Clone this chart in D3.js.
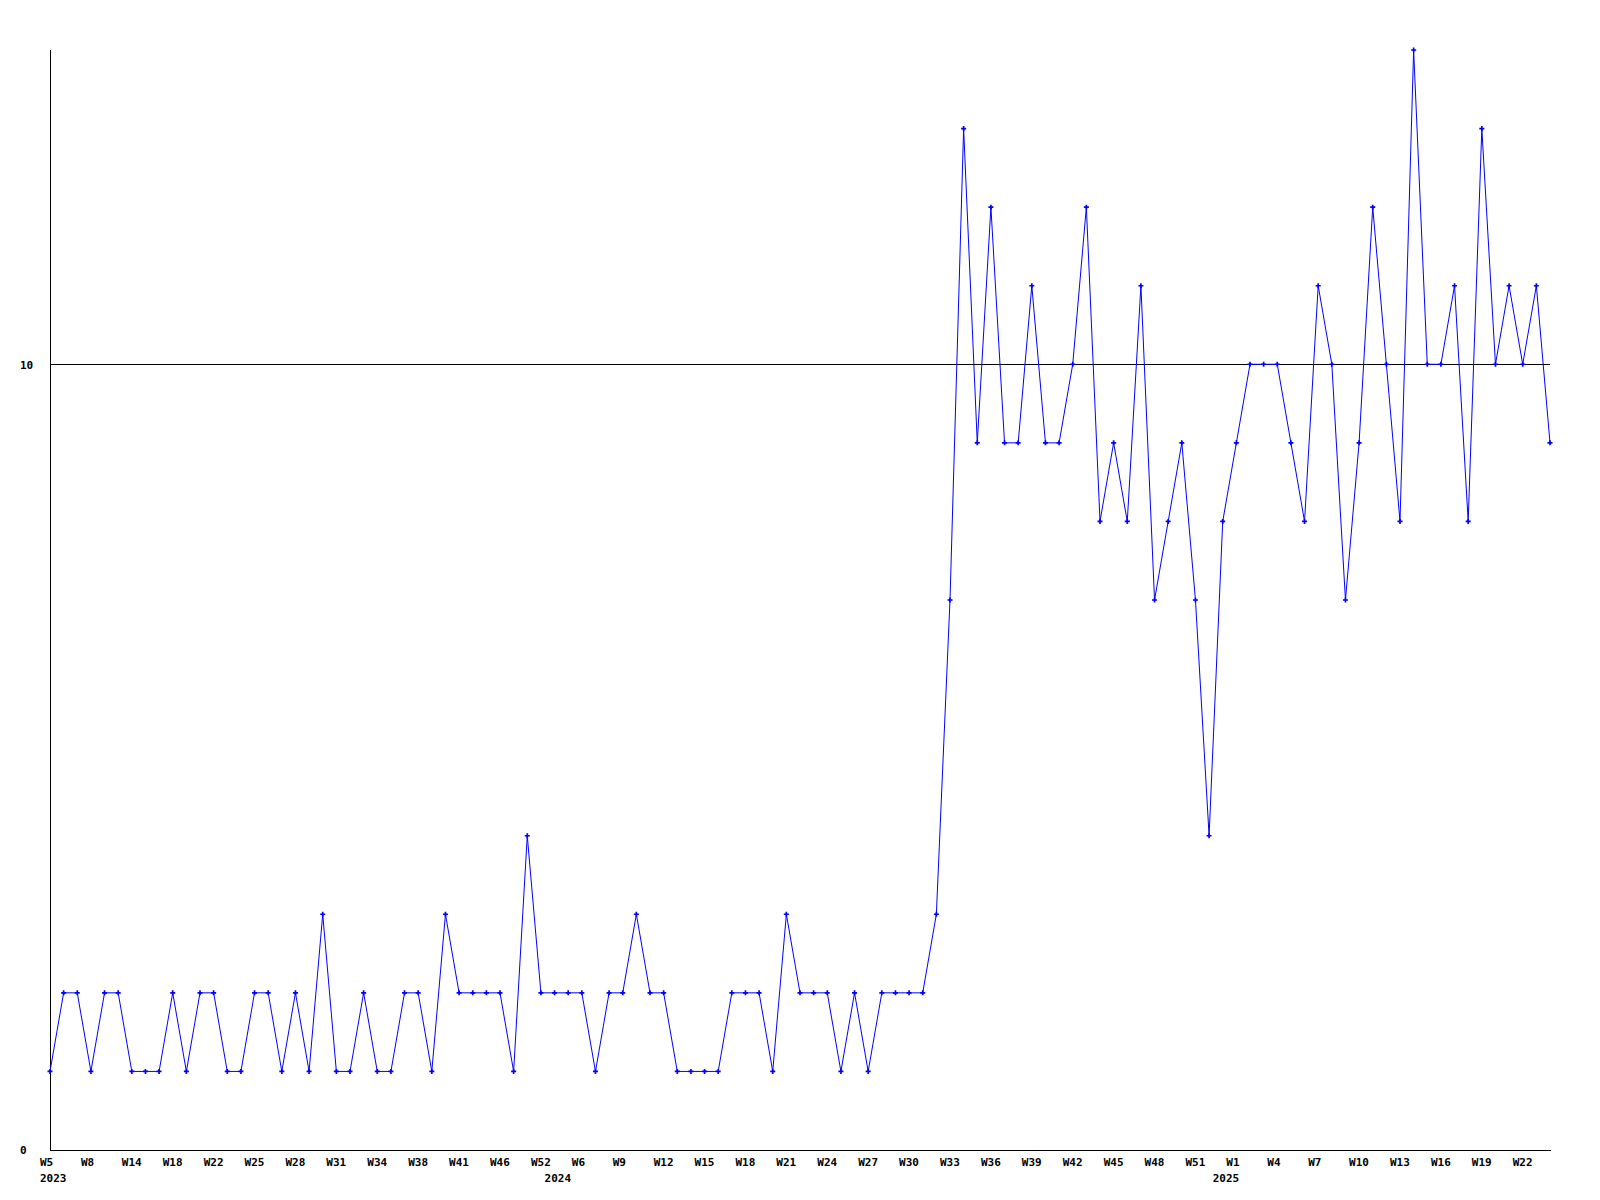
<!DOCTYPE html>
<html>
<head>
<meta charset="utf-8">
<script src="https://cdn.jsdelivr.net/npm/d3@7"></script>
<style>
  html, body { margin: 0; padding: 0; background: #ffffff; }
  svg { display: block; }
  text { font-family: "DejaVu Sans Mono", "Liberation Mono", monospace; font-weight: bold; font-size: 11px; fill: #000; }
</style>
</head>
<body>
<svg id="chart" width="1600" height="1200"></svg>
<script>
// Weekly values (one per point, 111 points)
const values = [
  1, 2, 2, 1, 2, 2, 1, 1, 1, 2,
  1, 2, 2, 1, 1, 2, 2, 1, 2, 1,
  3, 1, 1, 2, 1, 1, 2, 2, 1, 3,
  2, 2, 2, 2, 1, 4, 2, 2, 2, 2,
  1, 2, 2, 3, 2, 2, 1, 1, 1, 1,
  2, 2, 2, 1, 3, 2, 2, 2, 1, 2,
  1, 2, 2, 2, 2, 3, 7, 13, 9, 12,
  9, 9, 11, 9, 9, 10, 12, 8, 9, 8,
  11, 7, 8, 9, 7, 4, 8, 9, 10, 10,
  10, 9, 8, 11, 10, 7, 9, 12, 10, 8,
  14, 10, 10, 11, 8, 13, 10, 11, 10, 11,
  9
];
// Week tick labels, one every 3rd point
const weekLabels = [
  "W5", "W8", "W14", "W18", "W22", "W25", "W28", "W31", "W34", "W38",
  "W41", "W46", "W52", "W6", "W9", "W12", "W15", "W18", "W21", "W24",
  "W27", "W30", "W33", "W36", "W39", "W42", "W45", "W48", "W51", "W1",
  "W4", "W7", "W10", "W13", "W16", "W19", "W22"
];
const weekStep = 3;
// Year labels and the point index where each year starts
const yearLabels = ["2023", "2024", "2025"];
const yearIndex = [0, 37, 86];
// Y tick labels
const yTicks = [0, 10];
const yMax = 14;

const svg = d3.select("#chart");
const mLeft = 50, mRight = 1550, mTop = 50, mBottom = 1150;

const x = d3.scaleLinear().domain([0, values.length - 1]).range([mLeft, mRight]);
const y = d3.scaleLinear().domain([0, yMax]).range([mBottom, mTop]);

// Week label axis
const weekTicks = weekLabels.map((d, i) => i * weekStep);
const xAxis = d3.axisBottom(x)
  .tickValues(weekTicks)
  .tickSize(0)
  .tickPadding(0)
  .tickFormat((d, i) => weekLabels[i]);
const gx = svg.append("g").attr("transform", `translate(0,${mBottom})`).call(xAxis);
gx.select(".domain").remove();
gx.attr("font-family", null).attr("font-size", null);
gx.selectAll("text")
  .attr("text-anchor", "start")
  .attr("dx", -10.5)
  .attr("dy", null)
  .attr("y", 16);

// Year label axis
const yearAxis = d3.axisBottom(x)
  .tickValues(yearIndex)
  .tickSize(0)
  .tickPadding(0)
  .tickFormat((d, i) => yearLabels[i]);
const gyr = svg.append("g").attr("transform", `translate(0,${mBottom})`).call(yearAxis);
gyr.select(".domain").remove();
gyr.attr("font-family", null).attr("font-size", null);
gyr.selectAll("text")
  .attr("text-anchor", "start")
  .attr("dx", -10.5)
  .attr("dy", null)
  .attr("y", 32);

// Y axis labels
const yAxis = d3.axisLeft(y).tickValues(yTicks).tickSize(0).tickPadding(0).tickFormat(d3.format("d"));
const gy = svg.append("g").attr("transform", `translate(${mLeft},0)`).call(yAxis);
gy.select(".domain").remove();
gy.attr("font-family", null).attr("font-size", null);
gy.selectAll("text")
  .attr("text-anchor", "start")
  .attr("x", -30)
  .attr("dy", "0.35em");

// Horizontal reference line at 10
svg.append("line")
  .attr("x1", mLeft).attr("x2", mRight)
  .attr("y1", Math.round(y(10)) + 0.5).attr("y2", Math.round(y(10)) + 0.5)
  .attr("stroke", "#000").attr("stroke-width", 1).attr("shape-rendering", "crispEdges");

// Axis lines
svg.append("line")
  .attr("x1", mLeft + 0.5).attr("x2", mLeft + 0.5)
  .attr("y1", mTop).attr("y2", mBottom + 1)
  .attr("stroke", "#000").attr("stroke-width", 1).attr("shape-rendering", "crispEdges");
svg.append("line")
  .attr("x1", mLeft).attr("x2", mRight + 1)
  .attr("y1", mBottom + 0.5).attr("y2", mBottom + 0.5)
  .attr("stroke", "#000").attr("stroke-width", 1).attr("shape-rendering", "crispEdges");

// Data line
const line = d3.line().x((d, i) => x(i)).y(d => y(d));
svg.append("path")
  .datum(values)
  .attr("d", line)
  .attr("fill", "none")
  .attr("stroke", "#0000ff")
  .attr("stroke-width", 1);

// Markers
const sym = d3.symbol().type(d3.symbolCross).size(14);
svg.append("g").selectAll("path")
  .data(values)
  .join("path")
  .attr("d", sym)
  .attr("transform", (d, i) => `translate(${x(i)},${y(d)})`)
  .attr("fill", "#0000ff");
</script>
</body>
</html>
